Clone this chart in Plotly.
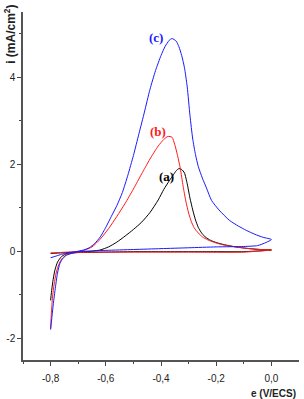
import plotly.graph_objects as go

# ---- data: curve (a) black ----
a_x = [-0.80, -0.77, -0.74, -0.71, -0.68, -0.65, -0.62, -0.59, -0.56, -0.53, -0.50, -0.47, -0.44,
       -0.41, -0.39, -0.37, -0.355, -0.345, -0.335, -0.325, -0.315, -0.305, -0.295, -0.285, -0.275,
       -0.265, -0.255, -0.24, -0.22, -0.20, -0.17, -0.13, -0.08, -0.04, 0.0,
       -0.10, -0.20, -0.30, -0.40, -0.50, -0.60, -0.70, -0.74, -0.76, -0.775, -0.785, -0.792, -0.797, -0.80]
a_y = [-0.05, -0.04, -0.03, -0.02, -0.01, 0.00, 0.03, 0.10, 0.21, 0.35, 0.50, 0.67, 0.89,
       1.18, 1.42, 1.62, 1.76, 1.85, 1.90, 1.88, 1.80, 1.55, 1.22, 0.95, 0.72,
       0.55, 0.44, 0.33, 0.25, 0.20, 0.15, 0.10, 0.06, 0.04, 0.03,
       -0.01, -0.01, -0.01, -0.01, -0.01, -0.02, -0.03, -0.05, -0.12, -0.25, -0.45, -0.70, -0.95, -1.13]

# ---- data: curve (b) red ----
b_x = [-0.80, -0.77, -0.74, -0.71, -0.68, -0.65, -0.62, -0.59, -0.56, -0.53, -0.50, -0.47, -0.44,
       -0.41, -0.39, -0.375, -0.36, -0.35, -0.34, -0.33, -0.32, -0.31, -0.30, -0.29, -0.28, -0.265,
       -0.25, -0.23, -0.20, -0.17, -0.13, -0.08, -0.04, 0.0,
       -0.10, -0.30, -0.50, -0.65, -0.70, -0.72, -0.74, -0.76, -0.77, -0.78, -0.787, -0.793, -0.797, -0.80]
b_y = [-0.04, -0.03, -0.02, -0.01, 0.02, 0.10, 0.28, 0.52, 0.80, 1.10, 1.43, 1.78, 2.12,
       2.42, 2.57, 2.64, 2.62, 2.45, 2.20, 1.90, 1.50, 1.15, 0.88, 0.68, 0.54, 0.42,
       0.33, 0.26, 0.19, 0.14, 0.10, 0.06, 0.04, 0.03,
       -0.02, -0.02, -0.02, -0.02, -0.03, -0.04, -0.07, -0.18, -0.30, -0.50, -0.75, -1.05, -1.40, -1.78]

# ---- data: curve (c) blue ----
c_x = [-0.80, -0.78, -0.76, -0.74, -0.72, -0.70, -0.68, -0.66, -0.64, -0.62, -0.60, -0.58, -0.56,
       -0.54, -0.52, -0.50, -0.48, -0.46, -0.44, -0.42, -0.40, -0.385, -0.37, -0.36, -0.345, -0.335,
       -0.325, -0.315, -0.305, -0.295, -0.285, -0.275, -0.265, -0.25, -0.235, -0.217, -0.19, -0.152,
       -0.12, -0.091, -0.06, -0.03, 0.0,
       -0.02, -0.05, -0.10, -0.20, -0.30, -0.40, -0.50, -0.60, -0.70, -0.718, -0.742, -0.755, -0.766,
       -0.775, -0.784, -0.79, -0.795, -0.80]
c_y = [-0.15, -0.11, -0.07, -0.04, -0.02, 0.00, 0.03, 0.08, 0.18, 0.33, 0.55, 0.80, 1.05,
       1.35, 1.75, 2.20, 2.70, 3.20, 3.72, 4.15, 4.50, 4.71, 4.85, 4.89, 4.83, 4.70,
       4.50, 4.22, 3.78, 3.12, 2.58, 2.22, 1.95, 1.68, 1.45, 1.17, 0.95, 0.71,
       0.58, 0.48, 0.39, 0.32, 0.27,
       0.20, 0.13, 0.11, 0.10, 0.08, 0.06, 0.04, 0.02, -0.01, -0.04, -0.09, -0.16, -0.28,
       -0.50, -0.90, -1.20, -1.50, -1.80]

x_tickvals = [-0.8, -0.6, -0.4, -0.2, 0.0]
x_ticktext = ["-0,8", "-0,6", "-0,4", "-0,2", "0,0"]
y_tickvals = [-2, 0, 2, 4]
y_ticktext = ["-2", "0", "2", "4"]

labels = ["(a)", "(b)", "(c)"]
label_x = [-0.38, -0.411, -0.417]
label_y = [1.71, 2.76, 4.91]
colors = ["#000000", "#ff1a1a", "#1a1aff"]

fig = go.Figure()
for xs, ys, col in [(a_x, a_y, colors[0]), (b_x, b_y, colors[1]), (c_x, c_y, colors[2])]:
    fig.add_trace(go.Scatter(x=xs, y=ys, mode="lines", line=dict(color=col, width=1, shape="spline", smoothing=0.6),
                             showlegend=False))

for t, lx, ly, col in zip(labels, label_x, label_y, colors):
    fig.add_annotation(x=lx, y=ly, text="<b>" + t + "</b>", showarrow=False,
                       font=dict(family="Liberation Serif", size=13, color=col))

fig.add_annotation(xref="paper", yref="paper", x=0.909, y=-0.095, text="<b>e (V/ECS)</b>",
                   showarrow=False, font=dict(family="Liberation Sans", size=10, color="#222"),
                   xanchor="center", yanchor="middle")
fig.add_annotation(xref="paper", yref="paper", x=-0.05, y=0.935, text="<b>i (mA/cm<sup>2</sup>)</b>",
                   textangle=-90, showarrow=False,
                   font=dict(family="Liberation Sans", size=12, color="#222"),
                   xanchor="center", yanchor="middle")

fig.update_layout(
    width=304, height=399, autosize=False,
    margin=dict(l=23, r=5, t=12, b=39),
    plot_bgcolor="white", paper_bgcolor="white",
    xaxis=dict(range=[-0.9, 0.1], tickvals=x_tickvals, ticktext=x_ticktext, ticks="outside",
               ticklen=4, tickwidth=1, tickcolor="#444", showline=True, linecolor="#555", linewidth=1.5,
               showgrid=False, zeroline=False, tickfont=dict(family="Liberation Sans", size=10, color="#222"),
               minor=dict(tickvals=[-0.9, -0.7, -0.5, -0.3, -0.1], ticks="outside", ticklen=2,
                          tickcolor="#444", tickwidth=1),
               ticklabelstandoff=4),
    yaxis=dict(range=[-2.5, 5.5], tickvals=y_tickvals, ticktext=y_ticktext, ticks="outside",
               ticklen=4, tickwidth=1, tickcolor="#444", showline=True, linecolor="#555", linewidth=1.5,
               showgrid=False, zeroline=False, tickfont=dict(family="Liberation Sans", size=10, color="#222"),
               minor=dict(tickvals=[-1, 1, 3, 5], ticks="outside", ticklen=2,
                          tickcolor="#444", tickwidth=1)),
)

fig.write_html("out.html")
